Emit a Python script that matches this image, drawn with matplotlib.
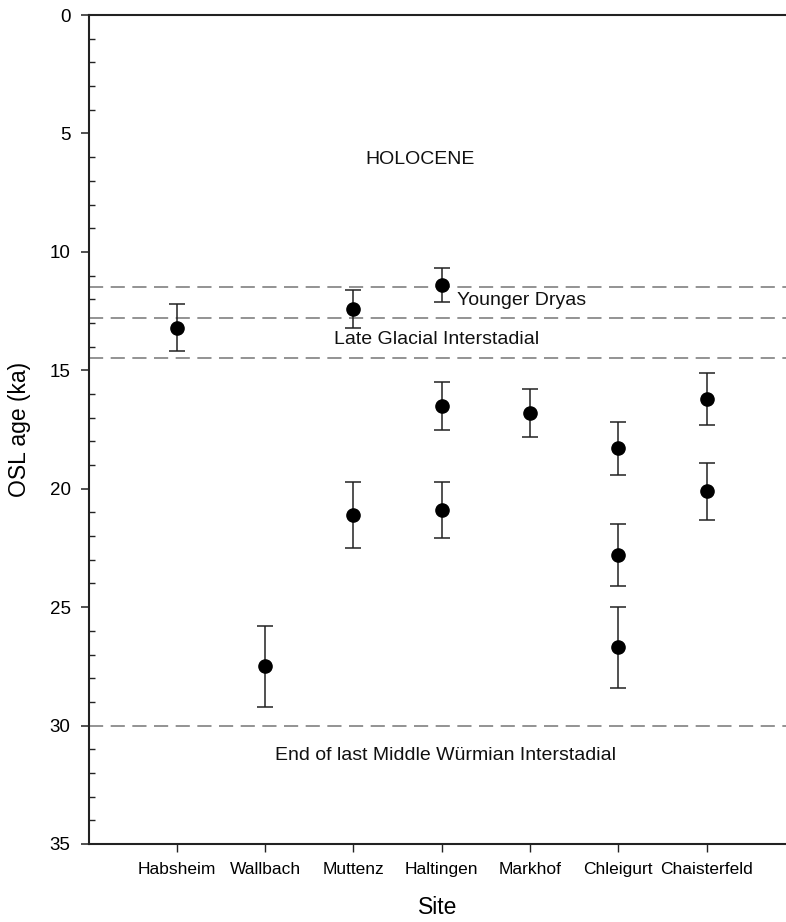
import matplotlib
matplotlib.use("Agg")
import matplotlib.pyplot as plt
from matplotlib.ticker import MultipleLocator

plt.rcParams['font.family'] = ['Liberation Sans', 'DejaVu Sans']

sites = ["Habsheim", "Wallbach", "Muttenz", "Haltingen", "Markhof", "Chleigurt", "Chaisterfeld"]
# each sample: site index (1-based), age (ka), error (ka)
sample_site = [1, 2, 3, 3, 4, 4, 4, 5, 6, 6, 6, 7, 7]
sample_age = [13.2, 27.5, 12.4, 21.1, 11.4, 16.5, 20.9, 16.8, 18.3, 22.8, 26.7, 16.2, 20.1]
sample_err = [1.0, 1.7, 0.8, 1.4, 0.7, 1.0, 1.2, 1.0, 1.1, 1.3, 1.7, 1.1, 1.2]

boundaries = [11.5, 12.8, 14.5, 30.0]
period_labels = ["HOLOCENE", "Younger Dryas", "Late Glacial Interstadial",
                 "End of last Middle Würmian Interstadial"]
period_label_x = [3.75, 4.9, 3.94, 4.04]
period_label_y = [6.1, 12.05, 13.7, 31.25]

fig = plt.figure(figsize=(7.86, 9.22), dpi=100)
ax = fig.add_axes([0.1127, 0.0846, 0.8873, 0.8991])

for b in boundaries:
    ax.axhline(b, color='#808080', lw=1.2, dashes=(8.5, 4.5), zorder=1)

ax.errorbar(sample_site, sample_age, yerr=sample_err, fmt='o', color='black',
            ms=9.5, ecolor='#222222', elinewidth=1.1, capsize=5.5, capthick=1.1, zorder=3)

for t, x, y in zip(period_labels, period_label_x, period_label_y):
    ax.text(x, y, t, ha='center', va='center', fontsize=14, color='#111111')

ax.set_xlim(0, 7.9)
ax.set_ylim(35, 0)
ax.set_xticks(range(1, len(sites) + 1))
ax.set_xticklabels(sites)
ax.yaxis.set_major_locator(MultipleLocator(5))
ax.yaxis.set_minor_locator(MultipleLocator(1))

ax.spines['right'].set_visible(False)
for s in ['left', 'top', 'bottom']:
    ax.spines[s].set_linewidth(1.5)
    ax.spines[s].set_color('#222222')

ax.tick_params(axis='y', which='major', direction='out', length=6, width=1.1,
               labelsize=13.5, pad=7, colors='#222222', labelcolor='black')
ax.tick_params(axis='y', which='minor', direction='in', length=4, width=1.0, colors='#222222')
ax.tick_params(axis='x', which='major', direction='out', length=6, width=1.0,
               labelsize=12.5, pad=7, colors='#222222', labelcolor='black')

ax.set_ylabel("OSL age (ka)", fontsize=16.5, labelpad=13)
ax.set_xlabel("Site", fontsize=16.5, labelpad=14)

fig.savefig("out.png", dpi=100)
